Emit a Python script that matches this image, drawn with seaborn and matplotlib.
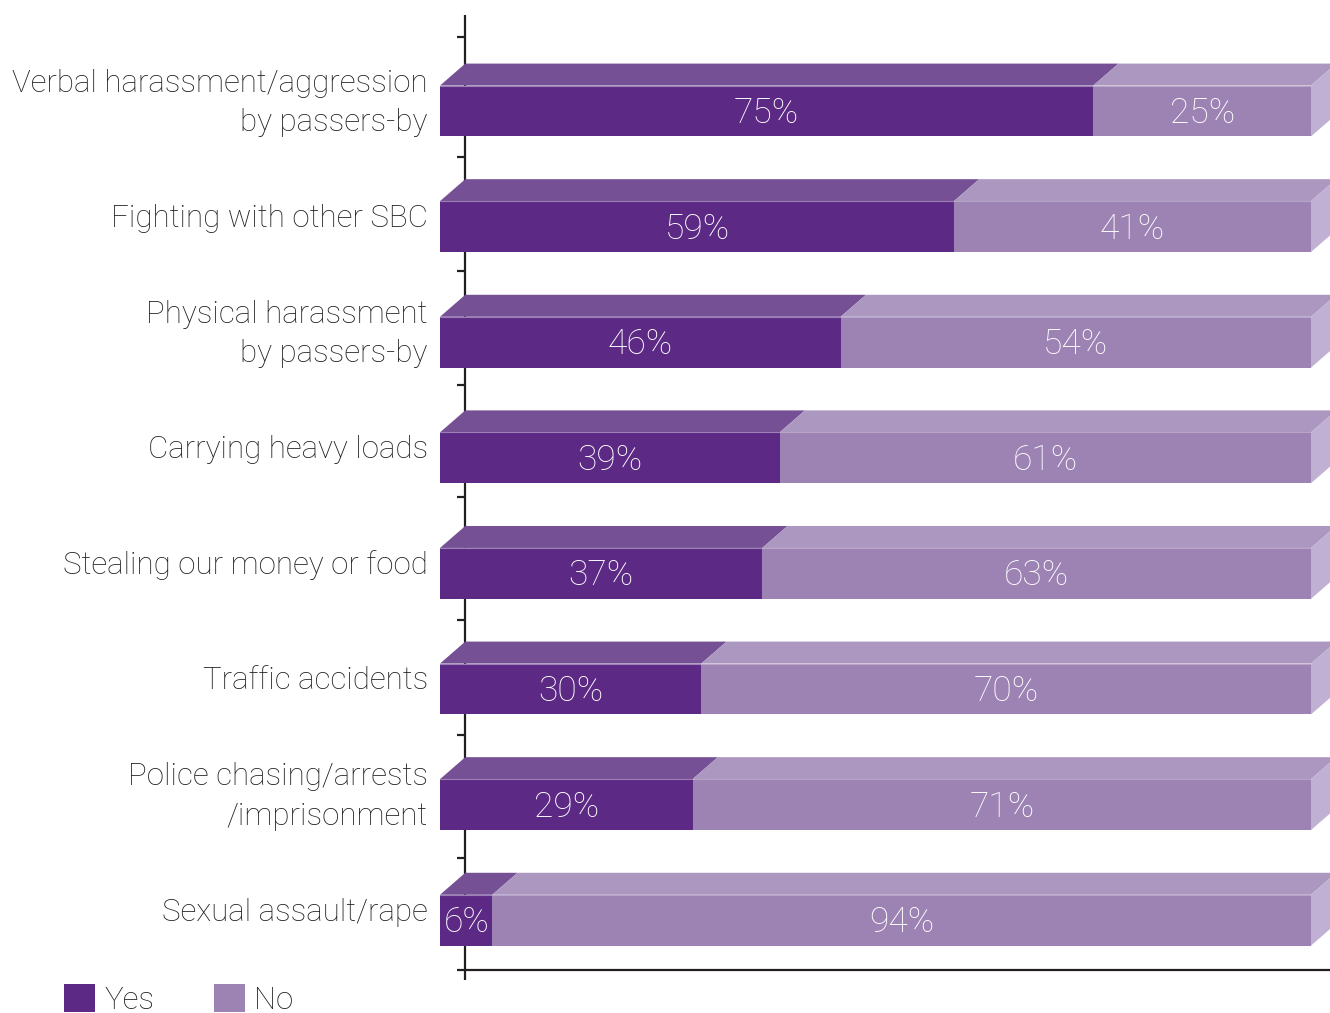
import matplotlib
matplotlib.use("Agg")
import matplotlib.pyplot as plt
import seaborn as sns
import pandas as pd
from matplotlib.patches import Patch

categories = [
    "Verbal harassment/aggression\nby passers-by",
    "Fighting with other SBC",
    "Physical harassment\nby passers-by",
    "Carrying heavy loads",
    "Stealing our money or food",
    "Traffic accidents",
    "Police chasing/arrests\n/imprisonment",
    "Sexual assault/rape",
]
yes_pct = [75, 59, 46, 39, 37, 30, 29, 6]
no_pct = [25, 41, 54, 61, 63, 70, 71, 94]
series_names = ["Yes", "No"]

# colours: front face, top face, side face
YES_FRONT, YES_TOP = "#5c2a84", "#755094"
NO_FRONT, NO_TOP, NO_SIDE = "#9c83b3", "#ab97c0", "#c0b0d4"
AXIS_COL = "#231f20"
TEXT_COL = "#231f20"

sns.set_theme(style="white")
plt.rcParams["font.family"] = ["Roboto", "DejaVu Sans"]
plt.rcParams["text.color"] = TEXT_COL

df = pd.DataFrame({"category": categories, "yes": yes_pct, "no": no_pct})
df["total"] = df["yes"] + df["no"]

fig = plt.figure(figsize=(13.3, 10.13), dpi=100)
ax = fig.add_axes([0, 0, 1, 1])

BAR_W = 0.44        # bar thickness in category units
DX, DY = 2.9, -0.19  # depth offset of the 3-D extrusion

# axis lines and tick marks (behind the bars)
ax.plot([DX, DX], [-0.83, 7.52], color=AXIS_COL, lw=1.6, zorder=0.5, solid_capstyle="butt")
ax.plot([DX, 102.3], [7.43, 7.43], color=AXIS_COL, lw=1.6, zorder=0.5, solid_capstyle="butt")
for ty in [-0.64, 0.40, 1.38, 2.37, 3.34, 4.40, 5.40, 6.46, 7.43]:
    ax.plot([1.9, DX], [ty, ty], color=AXIS_COL, lw=1.6, zorder=0.5, solid_capstyle="butt")

# front faces: full-length "No" bar with "Yes" drawn over it
sns.barplot(data=df, y="category", x="total", orient="h", color=NO_FRONT,
            width=BAR_W, saturation=1, edgecolor="none", linewidth=0, ax=ax, zorder=3)
sns.barplot(data=df, y="category", x="yes", orient="h", color=YES_FRONT,
            width=BAR_W, saturation=1, edgecolor="none", linewidth=0, ax=ax, zorder=3)

h = BAR_W / 2
for i, (yv, nv) in enumerate(zip(yes_pct, no_pct)):
    top = i - h
    total = yv + nv
    # top faces
    for a, b, col in [(0, yv, YES_TOP), (yv, total, NO_TOP)]:
        ax.fill([a, b, b + DX, a + DX], [top, top, top + DY, top + DY],
                color=col, lw=0, zorder=2)
    # right side face
    ax.fill([total, total, total + DX, total + DX],
            [top, i + h, i + h + DY, top + DY], color=NO_SIDE, lw=0, zorder=2)
    # light edge between top and front
    ax.plot([0, total], [top, top], color="#c9bbd8", lw=0.8, zorder=4, alpha=0.6)
    # value labels
    ax.text(yv / 2, i + 0.02, f"{yv}%", color="white", fontsize=25.5, fontweight="light",
            ha="center", va="center", zorder=5)
    ax.text(yv + nv / 2, i + 0.02, f"{nv}%", color="white", fontsize=25.5, fontweight="light",
            ha="center", va="center", zorder=5)
    # category label
    ax.text(-1.4, i - 0.07, categories[i], color=TEXT_COL, fontsize=22.5, fontweight="light",
            ha="right", va="center", linespacing=1.46, zorder=5)

ax.set_xlim(-50.52, 102.18)
ax.set_ylim(7.803, -0.960)
ax.set_axis_off()

handles = [Patch(facecolor=YES_FRONT, edgecolor="none", label=series_names[0]),
           Patch(facecolor=NO_FRONT, edgecolor="none", label=series_names[1])]
fig.legend(handles=handles, loc="lower left", bbox_to_anchor=(0.036, -0.017), ncol=2,
           frameon=False, handlelength=1.0, handleheight=1.0,
           handletextpad=0.3, columnspacing=1.9, borderpad=0.0,
           labelcolor=TEXT_COL, prop={"weight": "light", "size": 22.5})

fig.savefig("out.png", dpi=100)
